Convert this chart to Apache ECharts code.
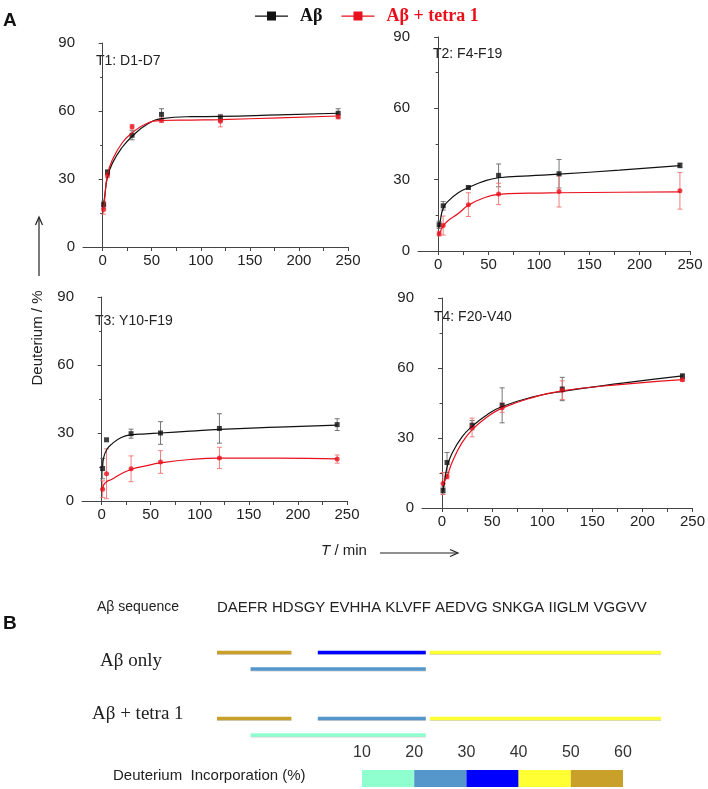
<!DOCTYPE html>
<html lang="en">
<head>
<meta charset="UTF-8">
<title>Deuterium uptake</title>
<script src="https://cdn.jsdelivr.net/npm/echarts@6/dist/echarts.min.js"></script>
<style>html,body{margin:0;padding:0;background:#fff}#main{width:708px;height:789px}</style>
</head>
<body>
<div id="main"></div>
<script>
// sampling times (min)
var times = [1, 5, 30, 60, 120, 240];
var fitTimes = [1, 2, 5, 10, 20, 30, 45, 60, 90, 120, 180, 240];
var xTickValues = [0, 25, 50, 75, 100, 125, 150, 175, 200, 225, 250];
var xLabelValues = [0, 50, 100, 150, 200, 250];
var panelTitles = ['T1: D1-D7', 'T2: F4-F19', 'T3: Y10-F19', 'T4: F20-V40'];

// Abeta alone
var t1Ab = [18.7, 33, 49.3, 58.5, 57, 59];
var t1AbErr = [1.5, 1, 2, 2.5, 1.5, 2];
var t2Ab = [11, 19, 26.7, 31.8, 32.5, 36];
var t2AbErr = [1.5, 1.8, 0.6, 4.8, 6, 1];
var t3Ab = [14.3, 27, 29.7, 30, 32, 33.7];
var t3AbErr = [4.5, 0, 2, 5, 6.5, 2.6];
var t4Ab = [7.5, 19.5, 35.5, 44, 51, 56.5];
var t4AbErr = [1.5, 4.3, 2, 7.5, 5, 1];

// Abeta + tetra 1
var t1Tetra = [16.5, 31.6, 53, 55.9, 55.5, 57.5];
var t1TetraErr = [2, 1, 1, 1, 2.5, 1];
var t2Tetra = [7.3, 10.7, 19.5, 24, 25, 25.3];
var t2TetraErr = [1, 4, 5, 4.5, 6.5, 7.7];
var t3Tetra = [5.2, 12, 14.2, 17.2, 19, 18.5];
var t3TetraErr = [3.7, 11, 5.7, 5, 4.7, 1.8];
var t4Tetra = [10.5, 13.5, 34.5, 43, 50.5, 55];
var t4TetraErr = [4.7, 1, 4, 2, 4, 0.7];

// fitted curves at fitTimes
var t1AbFit = [18.5, 22, 31, 37, 44, 48.8, 54, 56.6, 57.5, 57.6, 58.3, 59];
var t1TetraFit = [17, 21, 32, 38.5, 46, 50.3, 54.5, 55.8, 56, 56.2, 57, 57.8];
var t2AbFit = [10, 12.5, 18, 21, 24.5, 26.6, 29.3, 30.8, 31.6, 32.3, 34, 35.9];
var t2TetraFit = [7, 8, 10.5, 12.8, 15.8, 19.2, 22.3, 23.8, 24.3, 24.5, 24.7, 24.9];
var t3AbFit = [15, 19, 22.5, 25, 28, 29.2, 29.6, 30, 30.8, 31.6, 32.6, 33.5];
var t3TetraFit = [5, 7, 8.5, 9.5, 12, 13.9, 15.5, 16.8, 18.3, 18.9, 18.9, 18.6];
var t4AbFit = [7.5, 10, 17.5, 23.5, 30.5, 35, 40, 43.5, 47.5, 50, 53.5, 56.6];
var t4TetraFit = [10, 11, 13.5, 19.5, 28, 33.5, 39, 42.8, 47.3, 50.2, 53, 55];

// panel B: peptide coverage (residue start/end, track row, uptake bin 1..5)
var segStart = [1, 10, 20, 4, 1, 10, 20, 4];
var segEnd = [7, 19, 40, 19, 7, 19, 40, 19];
var segTrack = [0, 0, 0, 1, 4, 4, 4, 5];
var segBin = [5, 3, 4, 2, 5, 2, 4, 1];
var scaleEdges = [10, 20, 30, 40, 50, 60];
var binColors = ['#8fffd0', '#5597cb', '#0000ff', '#ffff33', '#c9a02a'];

var BLACK = '#111111', RED = '#e8101c';
var FONT = 'Liberation Sans, Arial, sans-serif';
var SERIF = 'Liberation Serif, Times New Roman, serif';

var grids = [
  {left: 83, top: 43, width: 265, height: 204},
  {left: 418, top: 37, width: 272, height: 214},
  {left: 82, top: 297, width: 265, height: 204},
  {left: 422, top: 298, width: 271, height: 210}
];
var titlePos = [[96, 62], [433, 55], [95, 322], [434, 318]];

var abSets = [[t1Ab, t1AbErr, t1AbFit], [t2Ab, t2AbErr, t2AbFit], [t3Ab, t3AbErr, t3AbFit], [t4Ab, t4AbErr, t4AbFit]];
var tetraSets = [[t1Tetra, t1TetraErr, t1TetraFit], [t2Tetra, t2TetraErr, t2TetraFit], [t3Tetra, t3TetraErr, t3TetraFit], [t4Tetra, t4TetraErr, t4TetraFit]];

function errRender(params, api) {
  var x = api.value(0);
  var p1 = api.coord([x, api.value(1)]);
  var p2 = api.coord([x, api.value(2)]);
  var w = 2.5;
  var st = {stroke: api.visual('color'), lineWidth: 0.9};
  return {type: 'group', children: [
    {type: 'line', shape: {x1: p1[0], y1: p1[1], x2: p2[0], y2: p2[1]}, style: st},
    {type: 'line', shape: {x1: p1[0] - w, y1: p1[1], x2: p1[0] + w, y2: p1[1]}, style: st},
    {type: 'line', shape: {x1: p2[0] - w, y1: p2[1], x2: p2[0] + w, y2: p2[1]}, style: st}
  ]};
}

function errData(mean, err) {
  var out = [];
  times.forEach(function (t, i) {
    if (err[i] > 0) out.push([t, mean[i] - err[i], mean[i] + err[i]]);
  });
  return out;
}
function pairs(xs, ys) { return xs.map(function (x, i) { return [x, ys[i]]; }); }

var xAxes = [], yAxes = [], series = [], graphics = [];
grids.forEach(function (g, k) {
  xAxes.push({
    gridIndex: k, type: 'value', min: -20, max: 250,
    axisLine: {lineStyle: {color: '#444', width: 1}},
    axisTick: {customValues: xTickValues, length: 4, lineStyle: {color: '#444'}},
    axisLabel: {customValues: xLabelValues, fontSize: 15, color: '#222', fontFamily: FONT, margin: 6},
    splitLine: {show: false}
  });
  yAxes.push({
    gridIndex: k, type: 'value', min: 0, max: 90, interval: 30,
    axisLine: {show: true, lineStyle: {color: '#444', width: 1}},
    axisTick: {show: true, length: 4, lineStyle: {color: '#444'}},
    minorTick: {show: true, splitNumber: 2, length: 2.5, lineStyle: {color: '#444'}},
    axisLabel: {fontSize: 15, color: '#222', fontFamily: FONT, margin: 8},
    splitLine: {show: false}
  });
  var ab = abSets[k], te = tetraSets[k];
  series.push(
    {type: 'custom', xAxisIndex: k, yAxisIndex: k, renderItem: errRender, itemStyle: {color: '#666'},
     encode: {x: 0, y: [1, 2]}, data: errData(ab[0], ab[1]), silent: true},
    {type: 'custom', xAxisIndex: k, yAxisIndex: k, renderItem: errRender, itemStyle: {color: '#f07070'},
     encode: {x: 0, y: [1, 2]}, data: errData(te[0], te[1]), silent: true},
    {name: 'Aβ', type: 'line', xAxisIndex: k, yAxisIndex: k, data: pairs(fitTimes, ab[2]),
     smooth: 0.5, showSymbol: false, color: BLACK, lineStyle: {width: 1.2, color: BLACK}},
    {name: 'Aβ + tetra 1', type: 'line', xAxisIndex: k, yAxisIndex: k, data: pairs(fitTimes, te[2]),
     smooth: 0.5, showSymbol: false, color: RED, lineStyle: {width: 1.2, color: RED}},
    {name: 'Aβ', type: 'scatter', xAxisIndex: k, yAxisIndex: k, data: pairs(times, ab[0]),
     symbol: 'rect', symbolSize: 5, itemStyle: {color: BLACK}},
    {name: 'Aβ + tetra 1', type: 'scatter', xAxisIndex: k, yAxisIndex: k, data: pairs(times, te[0]),
     symbol: 'circle', symbolSize: 5, itemStyle: {color: RED}}
  );
  graphics.push({type: 'text', left: titlePos[k][0], top: titlePos[k][1] - 8,
    style: {text: panelTitles[k], fontSize: 14, fill: '#222', fontFamily: FONT}});
});

// panel B coverage grid
grids.push({left: 215, top: 652.5, width: 448, height: 82.5});
xAxes.push({gridIndex: 4, type: 'value', min: 0, max: 40, show: false});
yAxes.push({gridIndex: 4, type: 'value', min: 0, max: 5, inverse: true, show: false});
series.push({
  type: 'custom', xAxisIndex: 4, yAxisIndex: 4, silent: true,
  encode: {x: [0, 1], y: 2},
  data: segStart.map(function (s, i) { return [s - 1, segEnd[i], segTrack[i], segBin[i]]; }),
  renderItem: function (params, api) {
    var a = api.coord([api.value(0), api.value(2)]);
    var b = api.coord([api.value(1), api.value(2)]);
    var col = binColors[api.value(3) - 1];
    return {type: 'group', children: [
      {type: 'line', shape: {x1: a[0] + 2, y1: a[1] + 1.5, x2: b[0] - 2, y2: b[1] + 1.5},
       style: {stroke: 'rgba(0,0,0,0.18)', lineWidth: 2}},
      {type: 'line', shape: {x1: a[0] + 2, y1: a[1], x2: b[0] - 2, y2: b[1]},
       style: {stroke: col, lineWidth: 3.5}}
    ]};
  }
});

// colour scale
grids.push({left: 362, top: 770, width: 261, height: 17});
xAxes.push({gridIndex: 5, type: 'value', min: 10, max: 60, interval: 10, position: 'top',
  axisLine: {show: false}, axisTick: {show: false}, splitLine: {show: false},
  axisLabel: {fontSize: 16, color: '#333', fontFamily: FONT, margin: 9}});
yAxes.push({gridIndex: 5, type: 'value', min: 0, max: 1, show: false});
series.push({
  type: 'custom', xAxisIndex: 5, yAxisIndex: 5, silent: true,
  encode: {x: [0, 1]},
  data: binColors.map(function (c, i) { return [scaleEdges[i], scaleEdges[i + 1], i]; }),
  renderItem: function (params, api) {
    var a = api.coord([api.value(0), 1]);
    var b = api.coord([api.value(1), 0]);
    return {type: 'rect', shape: {x: a[0], y: a[1], width: b[0] - a[0], height: b[1] - a[1]},
      style: {fill: binColors[api.value(2)]}};
  }
});

var txt = {fill: '#222', fontFamily: FONT};
graphics.push(
  {type: 'text', left: 3, top: 11, style: {text: 'A', fontSize: 19, fontWeight: 'bold', fill: '#111', fontFamily: FONT}},
  {type: 'text', left: 3, top: 614, style: {text: 'B', fontSize: 19, fontWeight: 'bold', fill: '#111', fontFamily: FONT}},
  {type: 'text', x: 38, y: 338, rotation: Math.PI / 2,
   style: {text: 'Deuterium / %', fontSize: 15, fill: '#222', fontFamily: FONT, align: 'center', verticalAlign: 'middle'}},
  {type: 'line', shape: {x1: 39, y1: 276, x2: 39, y2: 218}, style: {stroke: '#222', lineWidth: 1.2}},
  {type: 'polyline', shape: {points: [[35.5, 225], [39, 217], [42.5, 225]]}, style: {stroke: '#222', lineWidth: 1.2, fill: null}},
  {type: 'text', x: 344, y: 551,
   style: {text: '{i|T} / min', fontSize: 15, fill: '#222', fontFamily: FONT, align: 'center', verticalAlign: 'middle',
     rich: {i: {fontStyle: 'italic', fontSize: 15, fontFamily: FONT, fill: '#222'}}}},
  {type: 'line', shape: {x1: 380, y1: 553, x2: 457, y2: 553}, style: {stroke: '#222', lineWidth: 1.2}},
  {type: 'polyline', shape: {points: [[450, 549.5], [458, 553], [450, 556.5]]}, style: {stroke: '#222', lineWidth: 1.2, fill: null}},
  {type: 'text', left: 97, top: 600, style: Object.assign({text: 'Aβ sequence', fontSize: 14}, txt)},
  {type: 'text', left: 217, top: 600, style: Object.assign({text: 'DAEFR HDSGY EVHHA KLVFF AEDVG SNKGA IIGLM VGGVV', fontSize: 15}, txt)},
  {type: 'text', left: 100, top: 652, style: {text: 'Aβ only', fontSize: 19, fill: '#222', fontFamily: SERIF}},
  {type: 'text', left: 92, top: 705, style: {text: 'Aβ + tetra 1', fontSize: 19, fill: '#222', fontFamily: SERIF}},
  {type: 'text', left: 113, top: 768, style: Object.assign({text: 'Deuterium  Incorporation (%)', fontSize: 15}, txt)}
);

var chart = echarts.init(document.getElementById('main'));
chart.setOption({
  animation: false,
  backgroundColor: '#fff',
  legend: {
    left: 250, top: 2, itemWidth: 33, itemHeight: 9, itemGap: 19, selectedMode: false,
    icon: 'path://M0,4 L12,4 L12,0 L21,0 L21,4 L33,4 L33,5.2 L21,5.2 L21,9 L12,9 L12,5.2 L0,5.2 Z',
    textStyle: {fontFamily: SERIF, fontWeight: 'bold', fontSize: 18, padding: [0, 0, 0, 7]},
    data: [
      {name: 'Aβ', textStyle: {color: '#111'}},
      {name: 'Aβ + tetra 1', textStyle: {color: RED}}
    ]
  },
  grid: grids,
  xAxis: xAxes,
  yAxis: yAxes,
  series: series,
  graphic: graphics
});
</script>
</body>
</html>
